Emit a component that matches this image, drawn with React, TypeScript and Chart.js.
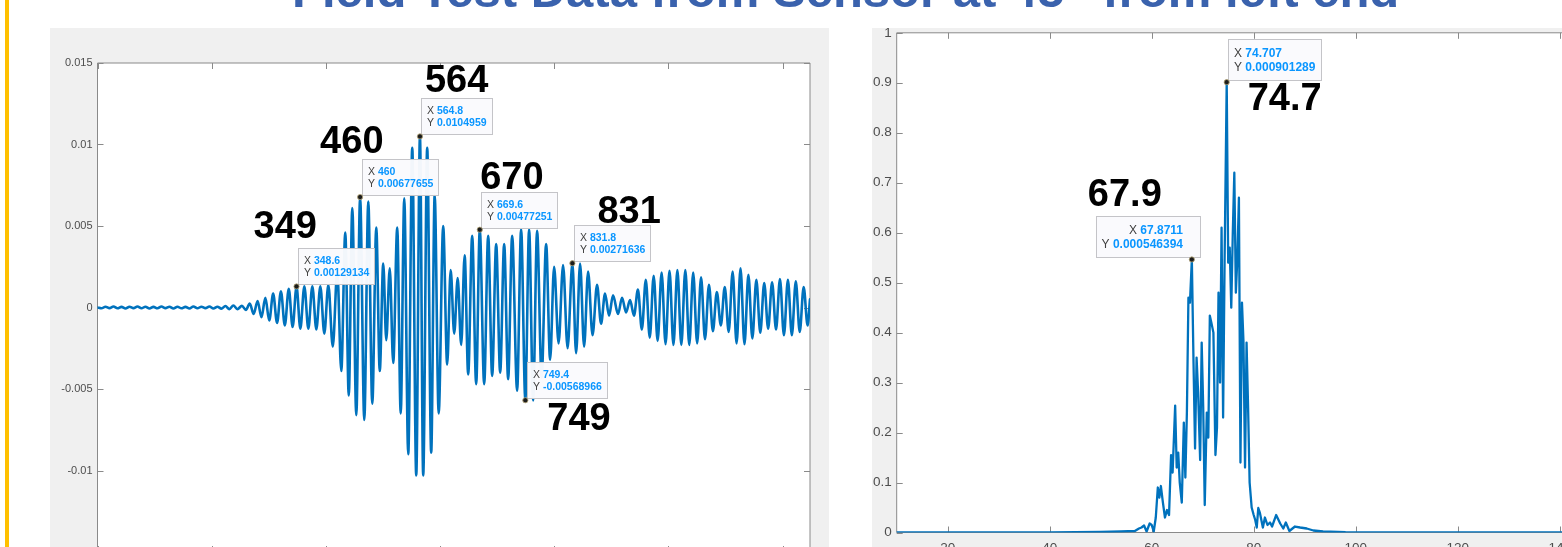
import React, { useEffect, useRef } from "react";
import { Chart, registerables } from "chart.js";

Chart.register(...registerables);

const FONT = '"Liberation Sans", Arial, Helvetica, sans-serif';
const LINE = "#0072BD";

// ---------- Left plot: time signal (x = sample, y in units of 1e-3) ----------
const quietT = [0, 7, 14, 21, 28, 35, 42, 49, 56, 63, 70, 77, 84, 91, 98, 105, 112, 119, 126, 133, 140, 147, 154, 161, 168, 175, 182, 189, 196, 203, 210, 217, 224, 231, 238, 245];
const quietV = [0, -0.05, 0.05, -0.04, 0.06, -0.05, 0.04, -0.06, 0.05, -0.04, 0.06, -0.05, 0.05, -0.06, 0.04, -0.05, 0.06, -0.04, 0.05, -0.06, 0.05, -0.05, 0.04, -0.06, 0.06, -0.05, 0.05, -0.04, 0.06, -0.06, 0.05, -0.07, 0.09, -0.1, 0.12, -0.1];

const burstT = [
  253.0, 259.9, 266.7, 273.5, 280.4, 287.2, 294.0, 300.8, 307.7, 314.5, 321.3, 328.1, 335.0, 341.8, 348.6,
  355.3, 362.3, 369.3, 376.3, 383.3, 390.3, 397.3, 404.3, 412.1, 420.0, 427.0, 434.0, 440.1, 446.3, 453.3, 460.0,
  467.3, 474.3, 481.3, 488.3, 494.4, 500.5, 505.8, 511.9, 518.0, 525.0, 531.1, 537.3, 544.3, 551.3, 558.3, 564.8,
  570.5, 577.5, 584.5, 590.6, 597.6, 605.5, 612.5, 618.6, 624.8, 630.9, 637.0, 643.1, 649.3, 656.3, 663.3, 669.6,
  677.3, 684.3, 691.3, 698.3, 705.3, 712.3, 719.3, 726.3, 735.0, 742.0, 749.4,
  756.0, 763.0, 770.0, 777.9, 785.8, 792.8, 799.8, 807.6, 815.5, 823.4, 831.8,
  838.3, 845.3, 852.3, 859.3, 867.1, 875.0, 882.0, 889.0, 896.0, 903.0, 911.8, 918.8, 925.8, 932.8,
  939.7, 946.6, 953.5, 960.4, 967.3, 974.2, 981.1, 988.1, 995.0, 1001.9, 1008.8, 1015.7, 1022.6, 1029.6, 1036.5,
  1043.4, 1050.3, 1057.2, 1064.1, 1071.0, 1077.9, 1084.8, 1091.8, 1098.7, 1105.6, 1112.5, 1119.4, 1126.3, 1133.2,
  1140.1, 1147.0, 1154.0, 1160.9, 1167.8, 1174.7, 1181.6, 1188.5, 1195.4, 1202.3, 1209.3, 1216.2, 1223.1, 1230.0,
  1236.9, 1243.8, 1248,
];
const burstV = [
  0.1, -0.15, 0.25, -0.4, 0.4, -0.6, 0.6, -0.8, 0.85, -0.95, 1.0, -1.1, 1.15, -1.2, 1.29134,
  -1.3, 1.3, -1.3, 1.3, -1.35, 1.3, -1.6, 1.4, -2.4, 2.2, -3.9, 4.6, -5.4, 6.1, -6.6, 6.77655,
  -6.9, 6.5, -5.9, 4.9, -3.9, 2.7, -2.0, 2.4, -3.4, 4.9, -6.5, 6.7, -9.0, 9.8, -10.3, 10.4959,
  -10.3, 9.8, -8.9, 6.9, -6.5, 5.0, -3.5, 2.3, -1.6, 1.8, -2.3, 3.2, -4.1, 4.4, -4.7, 4.77251,
  -4.7, 4.4, -4.2, 3.9, -4.0, 3.9, -4.4, 4.4, -5.1, 4.8, -5.68966,
  4.8, -5.7, 4.7, -4.3, 3.9, -3.2, 2.5, -2.2, 2.6, -2.5, 2.71636,
  -2.8, 2.7, -2.4, 2.2, -1.7, 1.4, -1.0, 0.85, -0.5, 0.75, -0.4, 0.6, -0.3, 0.45,
  -0.5, 1.1, -1.35, 1.7, -1.85, 1.95, -2.05, 2.15, -2.25, 2.25, -2.3, 2.3, -2.3, 2.3, -2.3,
  2.15, -2.2, 1.85, -1.95, 1.4, -1.45, 0.95, -1.1, 1.25, -1.5, 2.2, -2.2, 2.4, -2.25,
  2.0, -1.9, 1.7, -1.55, 1.5, -1.3, 1.55, -1.35, 1.75, -1.7, 1.7, -1.7, 1.6, -1.5,
  1.25, -1.1, 0.5,
];

const leftXTicks = [0, 200, 400, 600, 800, 1000, 1200];
const leftYTicks = [-0.015, -0.01, -0.005, 0, 0.005, 0.01, 0.015];

const leftTipX = [348.6, 460, 564.8, 669.6, 749.4, 831.8];
const leftTipY = [0.00129134, 0.00677655, 0.0104959, 0.00477251, -0.00568966, 0.00271636];
const leftTipXText = ["348.6", "460", "564.8", "669.6", "749.4", "831.8"];
const leftTipYText = ["0.00129134", "0.00677655", "0.0104959", "0.00477251", "-0.00568966", "0.00271636"];
const leftCallouts = ["349", "460", "564", "670", "749", "831"];

// ---------- Right plot: spectrum (x = frequency, y in units of 1e-3) ----------
const specF = [10, 20, 30, 40, 50, 54, 56.7, 57.5, 58.0, 58.5, 59.0, 59.6, 60.0, 60.4, 60.8, 61.2, 61.5, 61.8, 62.2, 62.6, 63.0, 63.4, 63.8, 64.1, 64.6, 64.9, 65.2, 65.5, 65.9, 66.3, 66.6, 66.9, 67.2, 67.5, 67.8711, 68.2, 68.5, 68.8, 69.1, 69.5, 69.8, 70.1, 70.4, 70.8, 71.1, 71.4, 71.7, 72.1, 72.5, 72.8, 73.1, 73.4, 73.7, 74.0, 74.3, 74.707, 75.0, 75.3, 75.6, 75.9, 76.2, 76.5, 76.8, 77.1, 77.4, 77.7, 78.0, 78.3, 78.6, 78.9, 79.2, 79.6, 80.0, 80.3, 80.6, 80.9, 81.2, 81.8, 82.2, 82.7, 83.2, 83.6, 84.4, 85.2, 85.8, 86.3, 87.0, 87.6, 88.1, 89.1, 90.4, 91.7, 93.6, 98, 110, 130, 150];
const specA = [0, 0, 0, 0, 0.001, 0.002, 0.003, 0.008, 0.01, 0.014, 0.002, 0.018, 0.015, 0.002, 0.03, 0.09, 0.07, 0.093, 0.06, 0.03, 0.045, 0.035, 0.155, 0.12, 0.254, 0.13, 0.16, 0.1, 0.06, 0.22, 0.11, 0.24, 0.47, 0.46, 0.546394, 0.34, 0.168, 0.35, 0.28, 0.145, 0.38, 0.25, 0.055, 0.24, 0.19, 0.434, 0.42, 0.4, 0.155, 0.21, 0.48, 0.3, 0.61, 0.23, 0.55, 0.901289, 0.54, 0.57, 0.45, 0.6, 0.72, 0.48, 0.55, 0.67, 0.14, 0.46, 0.38, 0.13, 0.38, 0.25, 0.1, 0.05, 0.035, 0.025, 0.01, 0.049, 0.04, 0.01, 0.03, 0.015, 0.02, 0.012, 0.035, 0.018, 0.008, 0.02, 0.003, 0.008, 0.012, 0.01, 0.008, 0.004, 0.002, 0.0005, 0, 0, 0];

const rightXTicks = [20, 40, 60, 80, 100, 120, 140];
const rightYTicks = [0, 0.1, 0.2, 0.3, 0.4, 0.5, 0.6, 0.7, 0.8, 0.9, 1];

const rightTipX = [67.8711, 74.707];
const rightTipY = [0.546394, 0.901289];
const rightTipXText = ["67.8711", "74.707"];
const rightTipYText = ["0.000546394", "0.000901289"];
const rightCallouts = ["67.9", "74.7"];

// ---------- presentation (offsets in px, not data) ----------
const leftCalloutOffset = [[-43, -48], [-40, -44.5], [5, -44.3], [0.4, -41], [22, 30], [25, -40]];
const rightCalloutOffset = [[-104, -53], [21, 28]];

type Tip = {
  x: number; y: number; xt: string; yt: string; callout: string;
  cdx: number; cdy: number; boxDx: number; anchorRight: boolean; padL: number; padR: number;
};

function buildTips(xs: number[], ys: number[], xt: string[], yt: string[], co: string[], off: number[][], anchorRight: boolean[], padR: number[]): Tip[] {
  return xs.map((x, i) => ({
    x, y: ys[i], xt: xt[i], yt: yt[i], callout: co[i], cdx: off[i][0], cdy: off[i][1],
    boxDx: anchorRight[i] ? 9 : 1.5, anchorRight: anchorRight[i], padL: 6, padR: padR[i],
  }));
}

const axesFrame = {
  id: "axesFrame",
  beforeDraw(chart: any) {
    const { ctx, chartArea: a } = chart;
    ctx.save();
    ctx.fillStyle = "#ffffff";
    ctx.fillRect(a.left, a.top, a.right - a.left, a.bottom - a.top);
    ctx.restore();
  },
  beforeDatasetsDraw(chart: any, _args: any, opts: any) {
    const { ctx, chartArea: a, scales } = chart;
    const tl = opts.tickLen;
    ctx.save();
    ctx.strokeStyle = opts.color;
    ctx.lineWidth = 1;
    ctx.beginPath();
    ctx.rect(a.left, a.top, a.right - a.left, a.bottom - a.top);
    for (const t of scales.x.ticks) {
      const p = Math.round(scales.x.getPixelForValue(t.value)) + 0.5;
      ctx.moveTo(p, a.bottom); ctx.lineTo(p, a.bottom - tl);
      ctx.moveTo(p, a.top); ctx.lineTo(p, a.top + tl);
    }
    for (const t of scales.y.ticks) {
      const p = Math.round(scales.y.getPixelForValue(t.value)) + 0.5;
      ctx.moveTo(a.left, p); ctx.lineTo(a.left + tl, p);
      ctx.moveTo(a.right, p); ctx.lineTo(a.right - tl, p);
    }
    ctx.stroke();
    ctx.restore();
  },
  beforeDatasetDraw(chart: any, args: any, opts: any) {
    if (chart.data.datasets[args.index].label !== "tips") return;
    const { ctx, scales } = chart;
    const fs = opts.tipFont;
    ctx.save();
    for (const tip of opts.tips as Tip[]) {
      const px = scales.x.getPixelForValue(tip.x);
      const py = scales.y.getPixelForValue(tip.y);
      ctx.font = `${fs}px ${FONT}`;
      const wX = ctx.measureText("X ").width;
      const wY = ctx.measureText("Y ").width;
      ctx.font = `bold ${fs}px ${FONT}`;
      const w1 = wX + ctx.measureText(tip.xt).width;
      const w2 = wY + ctx.measureText(tip.yt).width;
      const w = Math.round(tip.padL + Math.max(w1, w2) + tip.padR);
      const h = opts.tipH;
      const left = Math.round(tip.anchorRight ? px + tip.boxDx - w : px + tip.boxDx);
      const top = Math.round(py - 1 - h);
      ctx.fillStyle = "rgba(250,250,253,0.97)";
      ctx.fillRect(left, top, w, h);
      ctx.strokeStyle = "#c4c4c8";
      ctx.lineWidth = 1;
      ctx.strokeRect(left + 0.5, top + 0.5, w - 1, h - 1);
      ctx.textBaseline = "middle";
      const lines: [string, string, number, number][] = [["X ", tip.xt, w1, opts.l1], ["Y ", tip.yt, w2, opts.l2]];
      for (const [lab, val, lw, ly] of lines) {
        const x0 = tip.anchorRight ? left + w - tip.padR - lw : left + tip.padL;
        ctx.textAlign = "left";
        ctx.font = `${fs}px ${FONT}`;
        ctx.fillStyle = "#404040";
        ctx.fillText(lab, x0, top + ly);
        const lwid = ctx.measureText(lab).width;
        ctx.font = `bold ${fs}px ${FONT}`;
        ctx.fillStyle = "#0a96ff";
        ctx.fillText(val, x0 + lwid, top + ly);
      }
    }
    ctx.restore();
  },
  afterDraw(chart: any, _args: any, opts: any) {
    const { ctx, scales } = chart;
    ctx.save();
    ctx.font = `bold ${opts.calloutSize}px ${FONT}`;
    ctx.fillStyle = "#000000";
    ctx.textAlign = "left";
    ctx.textBaseline = "alphabetic";
    for (const tip of opts.tips as Tip[]) {
      const px = scales.x.getPixelForValue(tip.x);
      const py = scales.y.getPixelForValue(tip.y);
      ctx.fillText(tip.callout, px + tip.cdx, py + tip.cdy);
    }
    ctx.restore();
  },
};

function makeConfig(opts: {
  data: { x: number; y: number }[]; smooth: boolean; lineWidth: number; tipPts: { x: number; y: number }[];
  xMin: number; xMax: number; yMin: number; yMax: number; xTicks: number[]; yTicks: number[];
  yDigits: number; yWidth: number; xHeight: number; padding: any; labelSize: number;
  xLabelPad: number; tips: Tip[]; tipFont: number; tipH: number; l1: number; l2: number;
}): any {
  const tickFont = { family: FONT, size: opts.labelSize };
  return {
    type: "line",
    data: {
      datasets: [
        {
          label: "signal", data: opts.data, borderColor: LINE, borderWidth: opts.lineWidth, pointRadius: 0,
          fill: false, order: 2, tension: 0, borderJoinStyle: "round", borderCapStyle: "round",
          cubicInterpolationMode: opts.smooth ? "monotone" : "default",
        },
        {
          type: "scatter", label: "tips", data: opts.tipPts, pointRadius: 2.6,
          pointBackgroundColor: "#1c1c1c", pointBorderColor: "#b8a878", pointBorderWidth: 0.8, order: 1,
        },
      ],
    },
    options: {
      animation: false, responsive: false, devicePixelRatio: 1,
      layout: { padding: opts.padding },
      plugins: {
        legend: { display: false }, tooltip: { enabled: false },
        axesFrame: { color: "#8a8a8a", tickLen: 6, tips: opts.tips, tipFont: opts.tipFont, tipH: opts.tipH, l1: opts.l1, l2: opts.l2, calloutSize: 38 },
      },
      scales: {
        x: {
          type: "linear", min: opts.xMin, max: opts.xMax,
          grid: { display: false, drawTicks: false }, border: { display: false },
          ticks: { font: tickFont, color: "#4d4d4d", padding: opts.xLabelPad, autoSkip: false, maxRotation: 0 },
          afterBuildTicks: (s: any) => { s.ticks = opts.xTicks.map((v) => ({ value: v })); },
          afterFit: (s: any) => { s.height = opts.xHeight; s.paddingLeft = 0; s.paddingRight = 0; },
        },
        y: {
          type: "linear", min: opts.yMin, max: opts.yMax,
          grid: { display: false, drawTicks: false }, border: { display: false },
          ticks: {
            font: tickFont, color: "#4d4d4d", padding: 5, autoSkip: false,
            callback: (v: number) => String(Number(Number(v).toFixed(opts.yDigits))),
          },
          afterBuildTicks: (s: any) => { s.ticks = opts.yTicks.map((v) => ({ value: v })); },
          afterFit: (s: any) => { s.width = opts.yWidth; s.paddingTop = 0; s.paddingBottom = 0; },
        },
      },
    },
    plugins: [axesFrame],
  };
}

export default function App() {
  const leftRef = useRef<HTMLCanvasElement>(null);
  const rightRef = useRef<HTMLCanvasElement>(null);

  useEffect(() => {
    const leftSeries = quietT.map((t, i) => ({ x: t, y: quietV[i] / 1000 }))
      .concat(burstT.map((t, i) => ({ x: t, y: burstV[i] / 1000 })));
    const leftTips = buildTips(leftTipX, leftTipY, leftTipXText, leftTipYText, leftCallouts, leftCalloutOffset,
      [false, false, false, false, false, false], [6, 6, 6, 6, 6, 6]);
    const left = new Chart(leftRef.current!, makeConfig({
      data: leftSeries, smooth: true, lineWidth: 2.6, tipPts: leftTipX.map((x, i) => ({ x, y: leftTipY[i] })),
      xMin: 0, xMax: 1248, yMin: -0.015, yMax: 0.015, xTicks: leftXTicks, yTicks: leftYTicks, yDigits: 3,
      yWidth: 47.5, xHeight: 36, padding: { left: 0, right: 19, top: 35, bottom: 0 }, labelSize: 11,
      xLabelPad: 8, tips: leftTips, tipFont: 10.5, tipH: 37, l1: 12.7, l2: 25.3,
    }));

    const rightSeries = specF.map((f, i) => ({ x: f, y: specA[i] }));
    const rightTips = buildTips(rightTipX, rightTipY, rightTipXText, rightTipYText, rightCallouts, rightCalloutOffset,
      [true, false], [18, 7]);
    const right = new Chart(rightRef.current!, makeConfig({
      data: rightSeries, smooth: false, lineWidth: 2.3, tipPts: rightTipX.map((x, i) => ({ x, y: rightTipY[i] })),
      xMin: 10, xMax: 150, yMin: 0, yMax: 1, xTicks: rightXTicks, yTicks: rightYTicks, yDigits: 1,
      yWidth: 24.7, xHeight: 35.5, padding: { left: 0, right: 21.3, top: 3.5, bottom: 0 }, labelSize: 13.5,
      xLabelPad: 8, tips: rightTips, tipFont: 12, tipH: 42, l1: 14.5, l2: 29,
    }));

    return () => { left.destroy(); right.destroy(); };
  }, []);

  return (
    <div style={{ position: "fixed", left: 0, top: 0, width: 1562, height: 547, overflow: "hidden", background: "#ffffff" }}>
      <div style={{ position: "absolute", left: 5, top: 0, width: 4, height: 547, background: "#ffc000" }} />
      <div style={{
        position: "absolute", left: 292, top: -34, whiteSpace: "nowrap", fontFamily: FONT, fontWeight: 700,
        fontSize: 49, lineHeight: "48px", color: "#3a62ad",
      }}>
        Field Test Data from Sensor at 45” from left end
      </div>
      <div style={{ position: "absolute", left: 50, top: 28, width: 779, height: 519, overflow: "hidden", background: "#f0f0f0" }}>
        <canvas ref={leftRef} width={779} height={560} style={{ display: "block", width: 779, height: 560 }} />
      </div>
      <div style={{ position: "absolute", left: 872, top: 28, width: 690, height: 519, overflow: "hidden", background: "#f0f0f0" }}>
        <canvas ref={rightRef} width={760} height={540} style={{ display: "block", width: 760, height: 540 }} />
      </div>
    </div>
  );
}
